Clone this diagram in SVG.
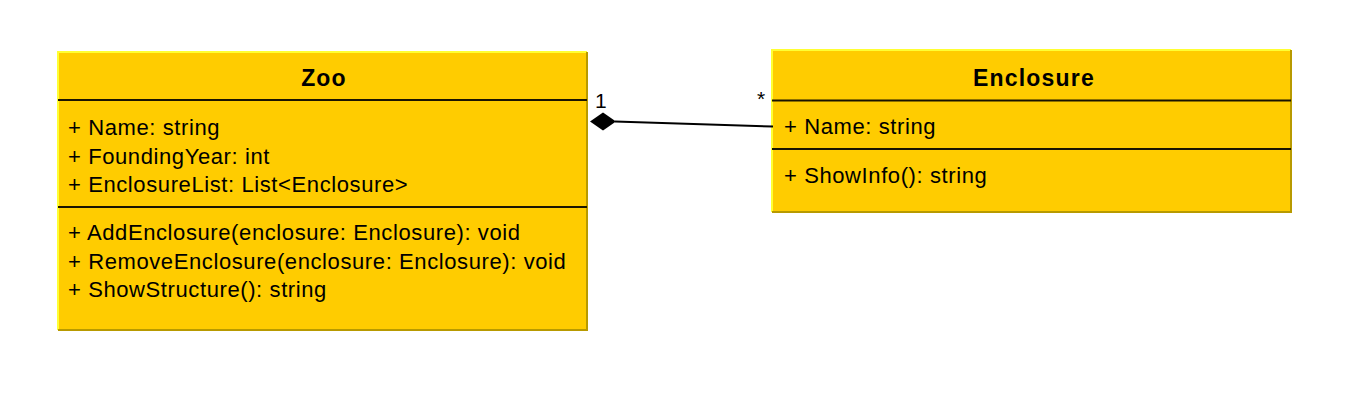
<svg xmlns="http://www.w3.org/2000/svg" width="1356" height="404" viewBox="0 0 1356 404">
<style>
.fill{fill:#FFCC00;}
.hl{stroke:#FFFF33;stroke-width:2;fill:none;}
.sh{stroke:#B89A00;stroke-width:2;fill:none;}
.sep{stroke:#1A1400;stroke-width:2;}
.t{font-family:"Liberation Sans",Arial,sans-serif;font-size:22px;letter-spacing:0.6px;fill:#000;}
.h{font-family:"Liberation Sans",Arial,sans-serif;font-size:23px;font-weight:bold;letter-spacing:1.2px;fill:#000;text-anchor:middle;}
.m{font-family:"Liberation Sans",Arial,sans-serif;font-size:21px;fill:#000;}
</style>
<rect width="1356" height="404" fill="#fff"/>
<g id="zoo">
<rect class="fill" x="58" y="52" width="529" height="278"/>
<polyline class="hl" points="58,330 58,52 587,52"/>
<polyline class="sh" points="587,52 587,330 58,330"/>
<line class="sep" x1="58" y1="100" x2="587" y2="100"/>
<line class="sep" x1="58" y1="207" x2="587" y2="207"/>
<text class="h" x="324" y="86">Zoo</text>
<text class="t" x="68" y="135">+ Name: string</text>
<text class="t" x="68" y="163.5">+ FoundingYear: int</text>
<text class="t" x="68" y="192">+ EnclosureList: List&lt;Enclosure&gt;</text>
<text class="t" x="68" y="240">+ AddEnclosure(enclosure: Enclosure): void</text>
<text class="t" x="68" y="268.5">+ RemoveEnclosure(enclosure: Enclosure): void</text>
<text class="t" x="68" y="296.5">+ ShowStructure(): string</text>
</g>
<g id="enclosure">
<rect class="fill" x="772" y="50" width="519" height="162"/>
<polyline class="hl" points="772,212 772,50 1291,50"/>
<polyline class="sh" points="1291,50 1291,212 772,212"/>
<line class="sep" x1="772" y1="100.5" x2="1291" y2="100.5"/>
<line class="sep" x1="772" y1="149" x2="1291" y2="149"/>
<text class="h" x="1034" y="86">Enclosure</text>
<text class="t" x="784" y="133.5">+ Name: string</text>
<text class="t" x="784" y="183">+ ShowInfo(): string</text>
</g>
<g id="connectors">
<line x1="615" y1="121.5" x2="773" y2="126.5" stroke="#000" stroke-width="2"/>
<polygon points="590,121.5 603,112.5 616,121.5 603,130.5" fill="#000"/>
<text class="m" x="595" y="108">1</text>
<text class="m" x="757" y="106">*</text>
</g>
</svg>
